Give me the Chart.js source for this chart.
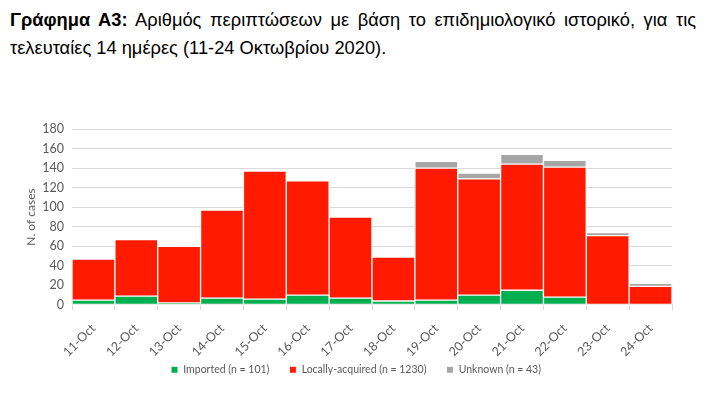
<!DOCTYPE html>
<html>
<head>
<meta charset="utf-8">
<script src="https://cdn.jsdelivr.net/npm/chart.js@4"></script>
<style>
  body { margin: 0; background: #fff; width: 713px; height: 398px; position: relative; overflow: hidden; }
  .line {
    position: absolute; left: 10px; width: 686px;
    font-family: "Liberation Sans", Arial, sans-serif; font-size: 18.3px; line-height: 28px;
    color: #000; white-space: nowrap;
  }
  #line1 { top: 6px; text-align: justify; text-align-last: justify; white-space: normal; }
  #line2 { top: 34px; }
  #wrap { position: absolute; left: 0; top: 100px; width: 713px; height: 311px; }
</style>
</head>
<body>
<div class="line" id="line1"><b>Γράφημα Α3:</b> Αριθμός περιπτώσεων με βάση το επιδημιολογικό ιστορικό, για τις</div>
<div class="line" id="line2">τελευταίες 14 ημέρες (11-24 Οκτωβρίου 2020).</div>
<div id="wrap"><canvas id="casesChart" width="713" height="311"></canvas></div>
<script>
const days = ['11-Oct', '12-Oct', '13-Oct', '14-Oct', '15-Oct', '16-Oct', '17-Oct',
              '18-Oct', '19-Oct', '20-Oct', '21-Oct', '22-Oct', '23-Oct', '24-Oct'];
const imported = [5, 9, 2, 7, 6, 10, 7, 4, 5, 10, 15, 8, 0, 0];
const local = [42, 58, 58, 90, 131, 117, 83, 45, 135, 119, 129, 133, 71, 19];
const unknown = [0, 0, 0, 0, 0, 0, 0, 0, 7, 6, 10, 7, 3, 3];
const seriesNames = ['Imported (n = 101)', 'Locally-acquired (n = 1230)', 'Unknown (n = 43)'];

const axisGrey = '#595959';

// move the legend up and a bit right so it sits where the original has it
const legendShift = {
    id: 'legendShift',
    afterLayout(chart) {
        const lg = chart.legend;
        lg.left += 9;
        lg.right += 9;
        lg.top -= 26;
        lg.bottom -= 26;
    }
};

const ctx = document.getElementById('casesChart').getContext('2d');

new Chart(ctx, {
    type: 'bar',
    data: {
        labels: days,
        datasets: [
            { label: seriesNames[0], data: imported, backgroundColor: '#00B050' },
            { label: seriesNames[1], data: local, backgroundColor: '#FF1A00' },
            { label: seriesNames[2], data: unknown, backgroundColor: '#A6A6A6' }
        ]
    },
    plugins: [legendShift],
    options: {
        responsive: false,
        animation: false,
        layout: {
            padding: { left: 22, right: 41, top: 29, bottom: 0 }
        },
        datasets: {
            bar: {
                barPercentage: 1,
                categoryPercentage: 1,
                borderColor: '#fff',
                borderWidth: 1,
                borderSkipped: false
            }
        },
        scales: {
            x: {
                stacked: true,
                grid: {
                    display: true,
                    drawOnChartArea: false,
                    tickLength: 5,
                    color: '#D9D9D9'
                },
                border: { color: '#D9D9D9' },
                ticks: {
                    color: axisGrey,
                    font: { family: 'Lato', size: 12.5 },
                    minRotation: 45,
                    maxRotation: 45,
                    padding: 11
                }
            },
            y: {
                stacked: true,
                min: 0,
                max: 180,
                afterFit: scale => { scale.width = 50; },
                grid: { color: '#D9D9D9', drawTicks: false },
                border: { display: false },
                ticks: {
                    stepSize: 20,
                    color: axisGrey,
                    font: { family: 'Lato', size: 12.5 },
                    padding: 8
                },
                title: {
                    display: true,
                    text: 'N. of cases',
                    color: axisGrey,
                    font: { family: 'Lato', size: 12 },
                    padding: 2
                }
            }
        },
        plugins: {
            legend: {
                position: 'bottom',
                labels: {
                    boxWidth: 7,
                    boxHeight: 7,
                    padding: 20,
                    color: axisGrey,
                    font: { family: 'Lato', size: 10.5 }
                }
            },
            tooltip: { enabled: false }
        }
    }
});
</script>
</body>
</html>
